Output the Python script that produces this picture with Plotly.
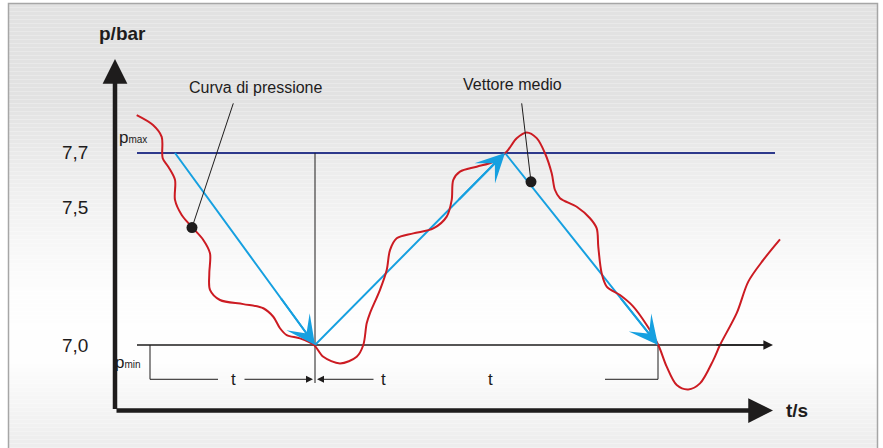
import plotly.graph_objects as go

# ---------------- data (time t in s, pressure p in bar) ----------------
curve_t = [2.17, 3.8, 4.67, 4.77, 5.33, 6.0, 6.0, 6.67, 7.67, 8.83, 9.5, 9.43, 9.5, 10.5,
           12.83, 14.83, 15.83, 16.5, 17.17, 18.5, 19.9, 20.83, 22.5, 24.17, 24.83, 25.17,
           25.5, 26.5, 27.17, 27.5, 28.17, 29.83, 31.83, 33.17, 33.67, 33.83, 34.5, 36.17,
           37.83, 39.17, 40.17, 41.17, 42.17, 43.0, 43.67, 44.0, 44.5, 46.17, 47.5, 48.17,
           48.33, 48.67, 49.17, 50.5, 51.83, 53.17, 54.33, 55.17, 56.17, 57.33, 58.5, 59.83,
           60.5, 62.17, 63.33, 64.83, 66.5]
curve_p = [7.838, 7.802, 7.759, 7.681, 7.650, 7.602, 7.529, 7.474, 7.431, 7.383, 7.334, 7.261,
           7.201, 7.164, 7.149, 7.134, 7.103, 7.061, 7.036, 7.024, 7.0, 6.957, 6.933, 6.957,
           7.0, 7.079, 7.116, 7.201, 7.273, 7.346, 7.389, 7.407, 7.425, 7.468, 7.529, 7.602,
           7.632, 7.650, 7.668, 7.705, 7.754, 7.775, 7.754, 7.699, 7.626, 7.565, 7.535, 7.504,
           7.462, 7.425, 7.358, 7.261, 7.213, 7.182, 7.140, 7.073, 7.0, 6.921, 6.854, 6.838,
           6.860, 6.945, 7.0, 7.116, 7.231, 7.310, 7.385]

vector_t = [6.0, 20.0, 39.0, 54.3]
vector_p = [7.7, 7.0, 7.7, 7.0]

p_max = 7.7
p_min = 7.0
tick_vals = [7.7, 7.5, 7.0]
tick_text = ["7,7", "7,5", "7,0"]

callout_text = ["Curva di pressione", "Vettore medio"]
callout_label_t = [14.1, 39.7]
callout_label_p = [7.94, 7.948]
callout_line_t = [11.83, 40.67]
callout_line_p = [7.881, 7.881]
callout_dot_t = [7.7, 41.6]
callout_dot_p = [7.428, 7.595]

period_label_t = [11.8, 26.8, 37.5]

# ---------------- styles ----------------
RED = "#cc1b22"
BLUE = "#16a0e0"
NAVY = "#2e3a8c"
BLACK = "#1e1c1c"
FONT = "Liberation Sans, Arial, sans-serif"

W, H = 883, 448
T0, T1 = -11.5, 76.8          # x range
P0, P1 = 6.6245, 8.2577       # y range

fig = go.Figure()

# background gradient inside a thin gray frame
stops = [(0, 226), (100, 226), (230, 245), (290, 253), (360, 254), (400, 246), (448, 236)]
def gray_at(y):
    for (y0, g0), (y1, g1) in zip(stops[:-1], stops[1:]):
        if y0 <= y <= y1:
            return g0 + (g1 - g0) * (y - y0) / (y1 - y0)
    return stops[-1][1]

shapes = []
step = 4
fx0, fx1, fy0 = 8.5 / W, 877.5 / W, 3.5
y = fy0
while y < H:
    y2 = min(y + step, H)
    g = int(round(gray_at((y + y2) / 2)))
    shapes.append(dict(type="rect", xref="paper", yref="paper", layer="below",
                       x0=fx0, x1=fx1, y0=1 - y2 / H, y1=1 - y / H,
                       fillcolor=f"rgb({g},{g},{g})", line=dict(width=0)))
    y = y2
shapes.append(dict(type="path", xref="paper", yref="paper", layer="below",
                   path=f"M {fx0} 0 L {fx0} {1 - fy0 / H} L {fx1} {1 - fy0 / H} L {fx1} 0",
                   line=dict(color="#a6a6a6", width=1.5)))

# p_max line
fig.add_trace(go.Scatter(x=[2.2, 66.0], y=[p_max, p_max], mode="lines",
                         line=dict(color=NAVY, width=2), hoverinfo="skip"))
# p_min axis line
fig.add_trace(go.Scatter(x=[2.2, 65.0], y=[p_min, p_min], mode="lines",
                         line=dict(color=BLACK, width=1.6), hoverinfo="skip"))
# vertical reference at first minimum
dim_p = 6.875
fig.add_trace(go.Scatter(x=[vector_t[1], vector_t[1]], y=[p_max, 6.8615], mode="lines",
                         line=dict(color=BLACK, width=1), hoverinfo="skip"))
# dimension brackets
fig.add_trace(go.Scatter(x=[3.5, 3.5, 10.3], y=[p_min, dim_p, dim_p], mode="lines",
                         line=dict(color=BLACK, width=1), hoverinfo="skip"))
fig.add_trace(go.Scatter(x=[49.0, vector_t[3], vector_t[3]], y=[dim_p, dim_p, p_min], mode="lines",
                         line=dict(color=BLACK, width=1), hoverinfo="skip"))

# blue mean vectors
fig.add_trace(go.Scatter(x=vector_t, y=vector_p, mode="lines",
                         line=dict(color=BLUE, width=2), hoverinfo="skip"))
# red pressure curve
fig.add_trace(go.Scatter(x=curve_t, y=curve_p, mode="lines",
                         line=dict(color=RED, width=2, shape="spline", smoothing=0.9),
                         hoverinfo="skip"))
# callout leader lines and dots
for i in range(2):
    fig.add_trace(go.Scatter(x=[callout_line_t[i], callout_dot_t[i]],
                             y=[callout_line_p[i], callout_dot_p[i]], mode="lines",
                             line=dict(color=BLACK, width=1), hoverinfo="skip"))
fig.add_trace(go.Scatter(x=callout_dot_t, y=callout_dot_p, mode="markers",
                         marker=dict(color=BLACK, size=11), hoverinfo="skip"))

ann = []
def arrow(x, y, ax, ay, color, width, size, head):
    ann.append(dict(x=x, y=y, ax=ax, ay=ay, xref="x", yref="y", axref="x", ayref="y",
                    text="", showarrow=True, arrowhead=head, arrowsize=size,
                    arrowwidth=width, arrowcolor=color, standoff=0))

# arrowheads of blue vectors
for i in range(3):
    t0, t1 = vector_t[i], vector_t[i + 1]
    p0, p1 = vector_p[i], vector_p[i + 1]
    arrow(t1, p1, t1 - 0.25 * (t1 - t0), p1 - 0.25 * (p1 - p0), BLUE, 2, 2.4, 3)

# main axes
arrow(0, 8.043, 0, 6.761, BLACK, 4.5, 1.1, 2)
arrow(65.8, 6.761, 0, 6.761, BLACK, 4.5, 1.1, 2)
# p_min axis arrowhead
arrow(65.8, p_min, 60.0, p_min, BLACK, 1.6, 1.2, 2)
# dimension arrows
arrow(19.8, dim_p, 12.8, dim_p, BLACK, 1, 1.4, 2)
arrow(20.2, dim_p, 26.0, dim_p, BLACK, 1, 1.4, 2)

def label(x, y, text, size, bold=False, xanchor="center"):
    ann.append(dict(x=x, y=y, xref="x", yref="y", text=f"<b>{text}</b>" if bold else text,
                    showarrow=False, xanchor=xanchor, yanchor="middle",
                    font=dict(family=FONT, size=size, color=BLACK)))

label(0.7, 8.137, "p/bar", 19, bold=True)
label(68.2, 6.763, "t/s", 19, bold=True)
for v, tx in zip(tick_vals, tick_text):
    label(-4.0, v, tx, 19)
label(1.8, 7.755, "p<span style='font-size:10px'>max</span>", 17)
label(1.3, 6.938, "p<span style='font-size:10px'>min</span>", 17)
for i in range(2):
    label(callout_label_t[i], callout_label_p[i], callout_text[i], 16)
for tt in period_label_t:
    label(tt, dim_p, "t", 17)

fig.update_layout(
    width=W, height=H, margin=dict(l=0, r=0, t=0, b=0),
    paper_bgcolor="white", plot_bgcolor="rgba(0,0,0,0)",
    showlegend=False, shapes=shapes, annotations=ann,
    xaxis=dict(range=[T0, T1], visible=False, fixedrange=True),
    yaxis=dict(range=[P0, P1], visible=False, fixedrange=True),
)
fig.write_html("out.html", config={"displayModeBar": False},
               post_script="document.body.style.margin='0';document.body.style.overflow='hidden';")
